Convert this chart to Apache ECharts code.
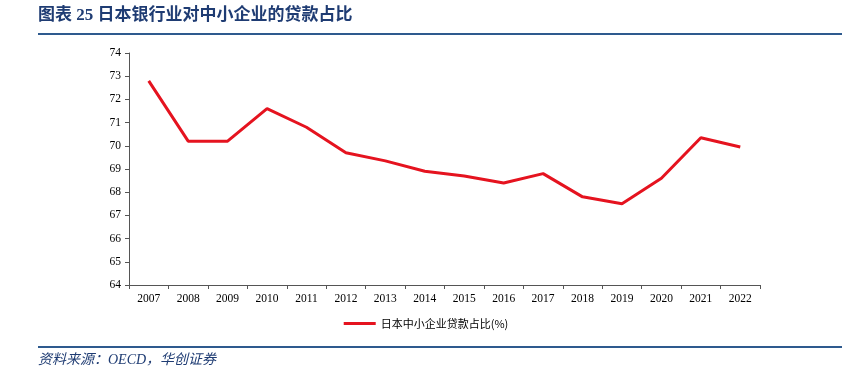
<!DOCTYPE html>
<html><head><meta charset="utf-8">
<script src="https://cdn.jsdelivr.net/npm/echarts@6/dist/echarts.min.js"></script>
<style>html,body{margin:0;padding:0;background:#fff}#c{width:852px;height:372px}</style>
</head><body><div id="c"></div>
<script>
const categories = ['2007','2008','2009','2010','2011','2012','2013','2014','2015','2016','2017','2018','2019','2020','2021','2022'];
const smeLoanShare = [72.8,70.2,70.2,71.6,70.8,69.7,69.35,68.9,68.7,68.4,68.8,67.8,67.5,68.6,70.35,69.95];
const seriesName = '日本中小企业贷款占比(%)';
const titleText = '图表 25 日本银行业对中小企业的贷款占比';
const sourceText = '资料来源：OECD，华创证券';

const chart = echarts.init(document.getElementById('c'));
chart.setOption({
  animation: false,
  grid: {left: 129, right: 92, top: 53, bottom: 87},
  legend: {
    data: [seriesName], bottom: 38, left: 'center',
    itemWidth: 32, itemHeight: 3,
    icon: 'rect',
    textStyle: {fontFamily: '"Noto Sans CJK SC", "Liberation Serif"', fontSize: 11, color: '#000'}
  },
  xAxis: {
    type: 'category', data: categories, boundaryGap: true,
    axisLine: {lineStyle: {color: '#555', width: 1}},
    axisTick: {show: true, alignWithLabel: false, lineStyle: {color: '#555'}, length: 4},
    axisLabel: {fontFamily: '"Liberation Serif", serif', fontSize: 11.5, color: '#000', margin: 8}
  },
  yAxis: {
    type: 'value', min: 64, max: 74, interval: 1,
    splitLine: {show: false},
    axisLine: {show: true, lineStyle: {color: '#555', width: 1}},
    axisTick: {show: true, lineStyle: {color: '#555'}, length: 4},
    axisLabel: {fontFamily: '"Liberation Serif", serif', fontSize: 11.5, color: '#000', margin: 8}
  },
  series: [{
    name: seriesName, type: 'line', data: smeLoanShare,
    symbol: 'none', lineStyle: {color: '#E5131F', width: 3},
    itemStyle: {color: '#E5131F'}
  }],
  graphic: [
    {type: 'text', left: 38, top: 7, style: {text: titleText, fill: '#1F3C73',
      font: 'bold 17px "Liberation Serif", "Noto Sans CJK SC"'}},
    {type: 'rect', shape: {x: 38, y: 33, width: 804, height: 2}, style: {fill: '#2E5A8E'}},
    {type: 'rect', shape: {x: 38, y: 346, width: 804, height: 2}, style: {fill: '#2E5A8E'}},
    {type: 'text', left: 38, top: 353, style: {text: sourceText, fill: '#1F3C73',
      font: 'italic 14px "Liberation Serif", "Noto Sans CJK SC"'}}
  ]
});
</script></body></html>
